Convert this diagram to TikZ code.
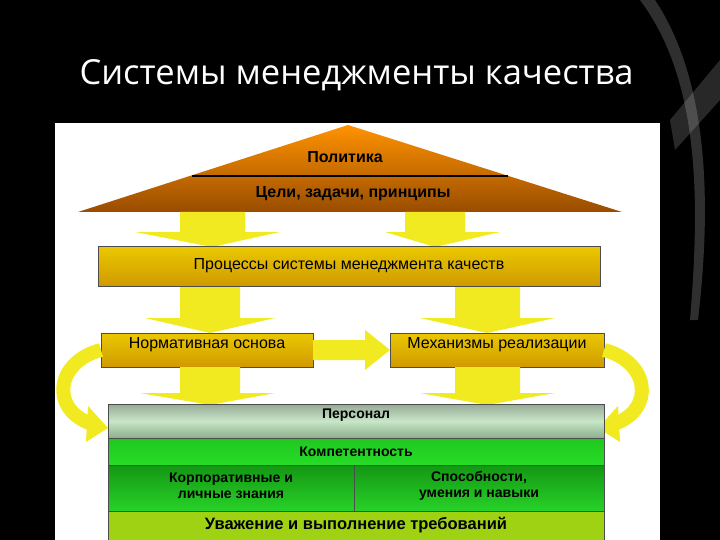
\documentclass[tikz,border=0pt]{standalone}
\usepackage{fontspec}
\setmainfont{Liberation Sans}
\newfontfamily\titlefont{Open Sans}
\definecolor{gold1}{HTML}{EAC800}
\definecolor{gold2}{HTML}{D09A00}
\definecolor{arrowc}{HTML}{F2EA20}
\definecolor{pers1}{RGB}{150,170,150}
\definecolor{pers2}{RGB}{140,175,140}
\definecolor{pers3}{RGB}{200,230,200}
\definecolor{comp1}{RGB}{30,200,30}
\definecolor{comp2}{RGB}{40,220,40}
\definecolor{cell1}{RGB}{20,150,20}
\definecolor{cell2}{RGB}{40,210,40}
\definecolor{resp1}{RGB}{160,210,20}
\begin{document}
\begin{tikzpicture}[x=1pt,y=-1pt,
  lbl/.style={font=\fontsize{16}{18}\selectfont, inner sep=0pt},
  blbl/.style={font=\bfseries\fontsize{16}{18}\selectfont, inner sep=0pt, align=center},
  slbl/.style={font=\bfseries\fontsize{14}{16}\selectfont, inner sep=0pt, align=center},
  arr/.style={fill=arrowc, draw=none},
  box/.style={draw=black!70, line width=0.6pt}]
\useasboundingbox (0,0) rectangle (720,540);
\fill[black] (0,0) rectangle (720,540);
\fill[gray!50,opacity=0.25] (640,0) .. controls (700,80) and (700,200) .. (690,320) -- (698,320) .. controls (712,200) and (708,80) .. (655,0) -- cycle;
\fill[gray!40,opacity=0.2] (670,120) -- (720,60) -- (720,100) -- (675,150) -- cycle;
\node[text=white, font=\titlefont\fontsize{34.5}{38}\selectfont, anchor=west] (title) at (76,75) {Системы менеджменты качества};
\fill[white] (55,123) rectangle (660,540);
% roof
\shade[top color=orange!85!yellow, bottom color=orange!60!black] (348,125) -- (622,212) -- (78,212) -- cycle;
\draw[black, line width=1.5pt] (192,176) -- (508,176);
\node[blbl] (pol) at (345,157) {Политика};
\node[blbl] (goals) at (353,194) {Цели, задачи, принципы};
% arrows roof -> process
\fill[arr] (180,212) -- (245,212) -- (245,232) -- (280,232) -- (212,247) -- (135,232) -- (180,232) -- cycle;
\fill[arr] (405,212) -- (465,212) -- (465,232) -- (500,232) -- (435,247) -- (385,232) -- (405,232) -- cycle;
% process
\shade[box, top color=gold1, bottom color=gold2] (98,246) rectangle (600,286);
\node[lbl] (proc) at (349,266) {Процессы системы менеджмента качеств};
% arrows process -> boxes
\fill[arr] (180,287) -- (240,287) -- (240,318) -- (275,318) -- (210,333) -- (145,318) -- (180,318) -- cycle;
\fill[arr] (455,287) -- (520,287) -- (520,318) -- (555,318) -- (487,333) -- (420,318) -- (455,318) -- cycle;
% boxes
\shade[box, top color=gold1, bottom color=gold2] (101,333) rectangle (313,367);
\shade[box, top color=gold1, bottom color=gold2] (390,333) rectangle (604,367);
\node[lbl] (norm) at (207,345) {Нормативная основа};
\node[lbl] (mech) at (497,345) {Механизмы реализации};
% horizontal arrow
\fill[arr] (313,340) -- (365,340) -- (365,330) -- (390,350) -- (365,370) -- (365,360) -- (313,360) -- cycle;
% arrows down to personnel
\fill[arr] (180,367) -- (240,367) -- (240,393) -- (275,393) -- (210,405) -- (140,393) -- (180,393) -- cycle;
\fill[arr] (455,367) -- (520,367) -- (520,393) -- (555,393) -- (487,405) -- (420,393) -- (455,393) -- cycle;
% curved arrows
\draw[arrowc, line width=14pt] (101,350) .. controls (55,362) and (50,410) .. (92,424);
\fill[arr] (88,406) -- (108,428) -- (86,442) -- cycle;
\draw[arrowc, line width=14pt] (604,350) .. controls (650,362) and (655,410) .. (614,424);
\fill[arr] (618,406) -- (598,428) -- (620,442) -- cycle;
% bottom block
\shade[box, top color=pers1, bottom color=pers2, middle color=pers3] (108,404) rectangle (604,438);
\shade[box, top color=comp1, bottom color=comp2] (108,438) rectangle (604,465);
\shade[box, top color=cell1, bottom color=cell2] (108,465) rectangle (354,511);
\shade[box, top color=cell1, bottom color=cell2] (354,465) rectangle (604,511);
\fill[resp1] (108,511) rectangle (604,540);
\draw[black!70, line width=0.6pt] (108,511) -- (604,511) (108,511) -- (108,540) (604,511) -- (604,540);
\node[slbl] (pers) at (356,415) {Персонал};
\node[slbl] (comp) at (356,452) {Компетентность};
\node[slbl] (corp) at (231,486) {Корпоративные и\\личные знания};
\node[slbl] (abil) at (479,486) {Способности,\\умения и навыки};
\node[blbl, font=\bfseries\fontsize{16.5}{18}\selectfont] (resp) at (356,525) {Уважение и выполнение требований};
\end{tikzpicture}
\end{document}
